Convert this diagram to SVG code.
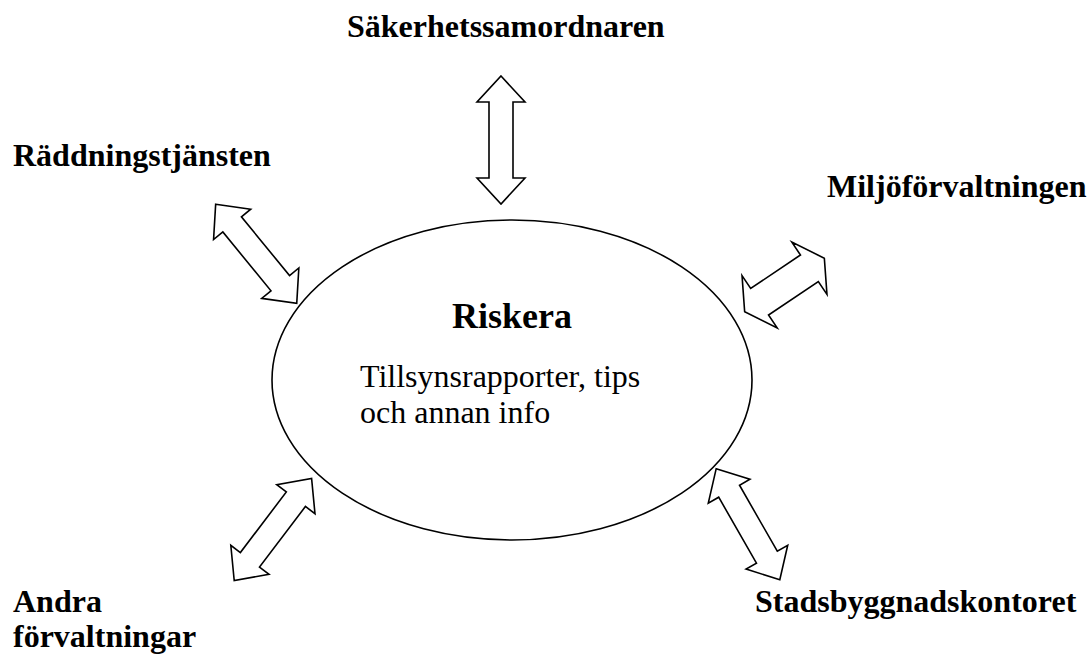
<svg xmlns="http://www.w3.org/2000/svg" xmlns:xlink="http://www.w3.org/1999/xlink" width="1088" height="655" viewBox="0 0 1088 655">
<style>
.lbl{font-family:"Liberation Serif","Times New Roman",serif;font-weight:bold;font-size:32px;fill:#000}
.body{font-family:"Liberation Serif","Times New Roman",serif;font-size:32px;fill:#000}
.arr{fill:#fff;stroke:#000;stroke-width:1.6;stroke-linejoin:miter}
</style>
<defs>
<polygon id="dbl" points="-64,0 -38,-24 -38,-12 38,-12 38,-24 64,0 38,24 38,12 -38,12 -38,24"/>
<polygon id="dblw" points="-48,0 -30,-31.5 -30,-16 30,-16 30,-31.5 48,0 30,31.5 30,16 -30,16 -30,31.5"/>
</defs>
<rect width="1088" height="655" fill="#fff"/>
<g id="riskera">
<ellipse cx="512" cy="380" rx="240" ry="160" fill="#fff" stroke="#000" stroke-width="1.6"/>
<text class="lbl" x="512" y="328" text-anchor="middle" style="font-size:36px">Riskera</text>
<text class="body" x="360" y="387">Tillsynsrapporter, tips</text>
<text class="body" x="360" y="423">och annan info</text>
</g>
<g id="connectors">
<use xlink:href="#dbl" class="arr" transform="translate(501,140) rotate(90)"/>
<use xlink:href="#dbl" class="arr" transform="translate(256.2,253.8) rotate(50.7)"/>
<use xlink:href="#dblw" class="arr" transform="translate(784.5,285) rotate(-33.9)"/>
<use xlink:href="#dbl" class="arr" transform="translate(272.9,529.5) rotate(-52.8)"/>
<use xlink:href="#dbl" class="arr" transform="translate(748,524.2) rotate(60.2)"/>
</g>
<g id="sakerhetssamordnaren"><text class="lbl" x="347" y="37">Säkerhetssamordnaren</text></g>
<g id="raddningstjansten"><text class="lbl" x="13" y="166">Räddningstjänsten</text></g>
<g id="miljoforvaltningen"><text class="lbl" x="827" y="197">Miljöförvaltningen</text></g>
<g id="andra"><text class="lbl" x="13" y="612">Andra</text><text class="lbl" x="13" y="647">förvaltningar</text></g>
<g id="stadsbyggnadskontoret"><text class="lbl" x="755" y="612">Stadsbyggnadskontoret</text></g>
</svg>
